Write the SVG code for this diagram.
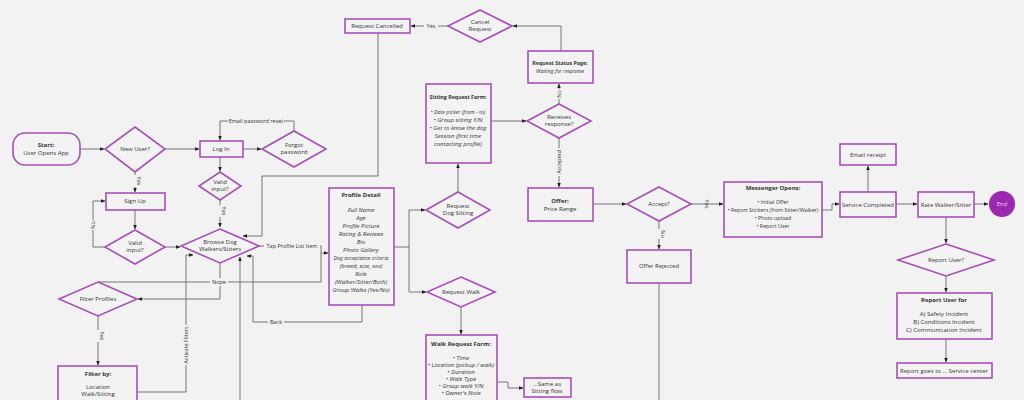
<svg xmlns="http://www.w3.org/2000/svg" width="1024" height="400" viewBox="0 0 1024 400">
<defs>
<marker id="ar" viewBox="0 0 10 10" refX="9" refY="5" markerWidth="5" markerHeight="5" orient="auto"><path d="M0,1 L10,5 L0,9 z" fill="#222"/></marker>
<style>
.n{fill:#f3f3f3;stroke:#a64fb8;stroke-width:1.6}
.c{fill:none;stroke:#666;stroke-width:0.9}
.a{marker-end:url(#ar)}
text{font-family:"Open Sans","Liberation Sans",sans-serif;font-size:6px;fill:#333;text-anchor:middle}
.b{font-weight:bold}
.i{font-style:italic}
.l{font-size:5.5px}
.s{font-size:5.3px}
.lb{fill:#f2f2f2}
</style>
</defs>
<rect width="1024" height="400" fill="#f2f2f2"/>
<g id="connectors">
<path class="c a" d="M80,149 H104"/>
<path class="c a" d="M165,149 H199"/>
<path class="c a" d="M243,149 H261"/>
<path class="c a" d="M294,131 V121 H220 V140"/>
<path class="c a" d="M220,157 V171"/>
<path class="c a" d="M220,200 V227"/>
<path class="c a" d="M135,172 V192"/>
<path class="c a" d="M135,210 V229"/>
<path class="c a" d="M105,247 H93 V201 H105"/>
<path class="c a" d="M165,247 H180"/>
<path class="c a" d="M258,246 H321 V253 H328"/>
<path class="c" d="M321,253 V282 H98"/>
<path class="c a" d="M220,263 V299 H138"/>
<path class="c a" d="M98,316 V365"/>
<path class="c a" d="M137,392 H186 V255 H193"/>
<path class="c a" d="M240,400 V257"/>
<path class="c a" d="M362,305 V322 H253 V256 H247"/>
<path class="c a" d="M378,33 V176 H262 V236 H243"/>
<path class="c a" d="M448,26 H411"/>
<path class="c a" d="M561,51 V26 H513"/>
<path class="c a" d="M491,121 H526"/>
<path class="c a" d="M559,104 V84"/>
<path class="c a" d="M559,138 V187"/>
<path class="c a" d="M593,204 H626"/>
<path class="c a" d="M691,204 H723"/>
<path class="c a" d="M659,221 V249"/>
<path class="c" d="M659,283 V400"/>
<path class="c a" d="M394,247 H409 V210 H425"/>
<path class="c a" d="M409,247 V292 H426"/>
<path class="c a" d="M458,192 V164"/>
<path class="c a" d="M461,307 V334"/>
<path class="c a" d="M497,382 H508 V388 H523"/>
<path class="c a" d="M822,210 H832 V204 H839"/>
<path class="c a" d="M868,192 V166"/>
<path class="c a" d="M896,204 H917"/>
<path class="c a" d="M974,204 H988"/>
<path class="c a" d="M946,217 V243"/>
<path class="c a" d="M946,276 V292"/>
<path class="c a" d="M946,339 V362"/>
<g class="l">
<rect class="lb" x="228" y="117" width="56" height="8"/><text class="l" x="256" y="123">Email password reset</text>
<rect class="lb" x="131" y="175" width="8" height="12"/><text class="l" transform="translate(137,181) rotate(90)">Yes</text>
<rect class="lb" x="216" y="205" width="8" height="12"/><text class="l" transform="translate(222,211) rotate(90)">Yes</text>
<rect class="lb" x="89" y="220" width="8" height="10"/><text class="l" transform="translate(95,225) rotate(-90)">No</text>
<rect class="lb" x="264" y="242" width="56" height="8"/><text class="l" x="292" y="248">Tap Profile List Item</text>
<rect class="lb" x="210" y="278" width="18" height="8"/><text class="l" x="219" y="284">Nope</text>
<rect class="lb" x="94" y="330" width="8" height="12"/><text class="l" transform="translate(100,336) rotate(90)">Yes</text>
<rect class="lb" x="182" y="325" width="8" height="40"/><text class="l" transform="translate(188,345) rotate(-90)">Activate Filters</text>
<rect class="lb" x="268" y="318" width="16" height="8"/><text class="l" x="276" y="324">Back</text>
<rect class="lb" x="424" y="22" width="14" height="8"/><text class="l" x="431" y="28">Yes</text>
<rect class="lb" x="555" y="89" width="8" height="10"/><text class="l" transform="translate(561,94) rotate(-90)">No</text>
<rect class="lb" x="555" y="148" width="8" height="28"/><text class="l" transform="translate(561,162) rotate(-90)">Accepted</text>
<text class="l" transform="translate(705,204) rotate(90)">Yes</text>
<rect class="lb" x="655" y="229" width="8" height="10"/><text class="l" transform="translate(661,234) rotate(90)">No</text>
</g>
</g>
<g id="start"><rect class="n" x="13" y="133" width="67" height="32" rx="12"/><text class="b" x="46" y="147">Start:</text><text x="46" y="155">User Opens App</text></g>
<g id="newuser"><polygon class="n" points="135,127 165,149 135,172 105,149"/><text x="135" y="151">New User?</text></g>
<g id="login"><rect class="n" x="200" y="141" width="43" height="16"/><text x="221" y="151">Log In</text></g>
<g id="forgot"><polygon class="n" points="294,131 326,149 294,167 262,149"/><text x="294" y="147">Forgot</text><text x="294" y="154">password</text></g>
<g id="valid1"><polygon class="n" points="220,172 241,186 220,200 199,186"/><text x="220" y="184">Valid</text><text x="220" y="191">input?</text></g>
<g id="signup"><rect class="n" x="106" y="193" width="59" height="17"/><text x="135" y="203">Sign Up</text></g>
<g id="valid2"><polygon class="n" points="135,230 165,247 135,264 105,247"/><text x="135" y="245">Valid</text><text x="135" y="252">input?</text></g>
<g id="browse"><polygon class="n" points="220,229 259,246 220,263 181,246"/><text x="220" y="244">Browse Dog</text><text x="220" y="251">Walkers/Sitters</text></g>
<g id="filterprofiles"><polygon class="n" points="98,282 137,299 98,316 59,299"/><text x="98" y="301">Filter Profiles</text></g>
<g id="filterby"><rect class="n" x="58" y="366" width="79" height="40"/><text class="b" x="98" y="376">Filter by:</text><text x="98" y="389">Location</text><text x="98" y="396">Walk/Sitting</text></g>
<g id="profile"><rect class="n" x="329" y="188" width="65" height="117"/>
<text class="b" x="361" y="197">Profile Detail</text>
<g class="i"><text x="361" y="212">Full Name</text><text x="361" y="220">Age</text><text x="361" y="228">Profile Picture</text><text x="361" y="236">Rating &amp; Reviews</text><text x="361" y="244">Bio</text><text x="361" y="252">Photo Gallery</text><text class="s" x="361" y="260">Dog acceptance criteria</text><text x="361" y="268">(breed, size, sex)</text><text x="361" y="276">Role</text><text x="361" y="284">(Walker/Sitter/Both)</text><text x="361" y="292">Group Walks (Yes/No)</text></g></g>
<g id="cancelled"><rect class="n" x="345" y="19" width="65" height="14"/><text x="377" y="28">Request Cancelled</text></g>
<g id="cancelreq"><polygon class="n" points="480,10 512,26 480,42 448,26"/><text x="480" y="24">Cancel</text><text x="480" y="31">Request</text></g>
<g id="status"><rect class="n" x="528" y="51" width="65" height="32"/><text class="b s" x="560" y="65">Request Status Page:</text><text class="i s" x="560" y="73">Waiting for response</text></g>
<g id="sitting"><rect class="n" x="426" y="84" width="65" height="79"/><text class="b s" x="458" y="99">Sitting Request Form:</text>
<g class="i"><text class="s" x="458" y="114">• Date picker (from - to)</text><text x="458" y="122">• Group sitting Y/N</text><text x="458" y="130">• Get to know the dog</text><text x="458" y="138">Session (first time</text><text x="458" y="146">contacting profile)</text></g></g>
<g id="receives"><polygon class="n" points="559,104 591,121 559,138 527,121"/><text x="559" y="119">Receives</text><text x="559" y="126">response?</text></g>
<g id="offer"><rect class="n" x="528" y="188" width="65" height="33"/><text class="b" x="560" y="203">Offer:</text><text x="560" y="211">Price Range</text></g>
<g id="accept"><polygon class="n" points="659,187 691,204 659,221 627,204"/><text x="659" y="206">Accept?</text></g>
<g id="rejected"><rect class="n" x="627" y="250" width="64" height="33"/><text x="659" y="268">Offer Rejected</text></g>
<g id="reqsitting"><polygon class="n" points="458,192 490,210 458,228 426,210"/><text x="458" y="208">Request</text><text x="458" y="215">Dog Sitting</text></g>
<g id="reqwalk"><polygon class="n" points="461,277 495,292 461,307 427,292"/><text x="461" y="294">Request Walk</text></g>
<g id="walkform"><rect class="n" x="426" y="335" width="71" height="72"/><text class="b" x="461" y="346">Walk Request Form:</text>
<g class="i"><text x="461" y="360">• Time</text><text x="461" y="367">• Location (pickup / walk)</text><text x="461" y="374">• Duration</text><text x="461" y="381">• Walk Type</text><text x="461" y="388">• Group walk Y/N</text><text x="461" y="395">• Owner's Note</text></g></g>
<g id="same"><rect class="n" x="524" y="378" width="47" height="19"/><text x="547" y="386">...Same as</text><text x="547" y="393">Sitting flow</text></g>
<g id="messenger"><rect class="n" x="724" y="182" width="98" height="55"/><text class="b" x="773" y="190">Messenger Opens:</text><text class="s" x="773" y="204">• Initial Offer</text><text class="s" x="773" y="212">• Report Stickers (from Sitter/Walker)</text><text class="s" x="773" y="220">• Photo upload</text><text class="s" x="773" y="228">• Report User</text></g>
<g id="service"><rect class="n" x="840" y="192" width="56" height="25"/><text x="868" y="207">Service Completed</text></g>
<g id="email"><rect class="n" x="840" y="144" width="56" height="21"/><text x="868" y="157">Email receipt</text></g>
<g id="rate"><rect class="n" x="918" y="192" width="56" height="25"/><text x="946" y="207">Rate Walker/Sitter</text></g>
<g id="end"><circle cx="1002" cy="204" r="13" fill="#9c27b0"/><text x="1002" y="206" style="fill:#f0d0f5">End</text></g>
<g id="reportq"><polygon class="n" points="946,244 994,260 946,276 898,260"/><text x="946" y="262">Report User?</text></g>
<g id="reportfor"><rect class="n" x="897" y="293" width="95" height="46"/><text class="b" x="944" y="302">Report User for</text><text x="944" y="316">A) Safety Incident</text><text x="944" y="324">B) Conditions Incident</text><text x="944" y="332">C) Communication Incident</text></g>
<g id="reportgoes"><rect class="n" x="897" y="363" width="95" height="15"/><text x="944" y="373">Report goes to ... Service center</text></g>
</svg>
